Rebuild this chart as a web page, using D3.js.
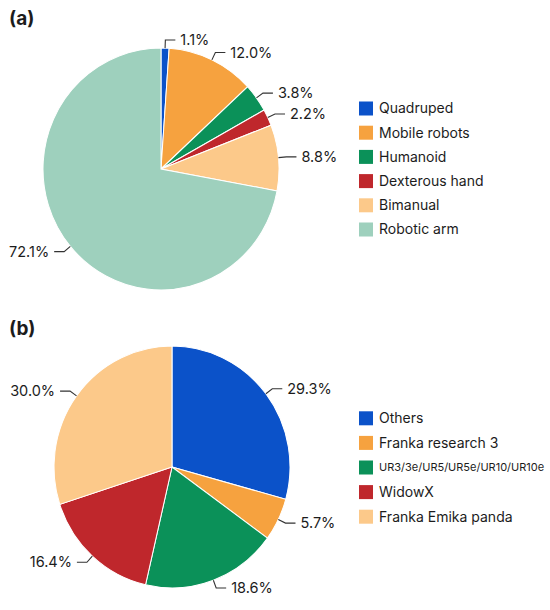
<!DOCTYPE html>
<html>
<head>
<meta charset="utf-8">
<script src="https://cdn.jsdelivr.net/npm/d3@7"></script>
<style>
  body { margin: 0; background: #fff; }
  text { font-family: Inter, "Noto Sans", sans-serif; fill: #1c1c1c; }
</style>
</head>
<body>
<script>
// panel (a): robot embodiment share
var catsA = ["Quadruped", "Mobile robots", "Humanoid", "Dexterous hand", "Bimanual", "Robotic arm"];
var valsA = [1.1, 12.0, 3.8, 2.2, 8.8, 72.1];
var colorsA = ["#0b52c9", "#f6a23f", "#0b9159", "#bf272c", "#fcc98a", "#9ed0bd"];

// panel (b): arm models
var catsB = ["Others", "Franka research 3", "UR3/3e/UR5/UR5e/UR10/UR10e", "WidowX", "Franka Emika panda"];
var valsB = [29.3, 5.7, 18.6, 16.4, 30.0];
var colorsB = ["#0b52c9", "#f6a23f", "#0b9159", "#bf272c", "#fcc98a"];

var width = 550, height = 610;

var svg = d3.select("body").append("svg")
  .attr("width", width)
  .attr("height", height);

function drawPanel(opts) {
  var r = 118, ky = 1.025;
  var data = opts.vals.map(function(v, i) { return { name: opts.cats[i], value: v, color: opts.colors[i] }; });

  var pie = d3.pie().value(function(d) { return d.value; }).sort(null);
  var arc = d3.arc().innerRadius(0).outerRadius(r);
  var arcs = pie(data);

  svg.append("text")
    .attr("x", 9).attr("y", opts.titleY)
    .attr("font-size", "19px").attr("font-weight", "bold")
    .text(opts.title);

  var g = svg.append("g")
    .attr("transform", "translate(" + opts.cx + "," + opts.cy + ")");

  g.append("g")
    .attr("transform", "scale(1," + ky + ")")
    .selectAll("path").data(arcs)
    .enter().append("path")
    .attr("d", arc)
    .attr("fill", function(d) { return d.data.color; })
    .attr("stroke", "#fff")
    .attr("stroke-width", 1);

  // leader lines + labels
  arcs.forEach(function(d) {
    var a = (d.startAngle + d.endAngle) / 2;
    var s = Math.sin(a) >= 0 ? 1 : -1;
    var x0 = r * Math.sin(a), y0 = -r * Math.cos(a) * ky;
    var x1 = (r + 8) * Math.sin(a), y1 = -(r + 8) * Math.cos(a) * ky;
    var x2 = x1 + s * 10;
    g.append("path")
      .attr("d", "M" + x0 + "," + y0 + "L" + x1 + "," + y1 + "L" + x2 + "," + y1)
      .attr("fill", "none")
      .attr("stroke", "#333")
      .attr("stroke-width", 1.1);
    g.append("text")
      .attr("x", x2 + s * 5)
      .attr("y", y1)
      .attr("dy", "0.35em")
      .attr("text-anchor", s > 0 ? "start" : "end")
      .attr("font-size", "14.5px")
      .text(d.data.value.toFixed(1) + "%");
  });

  // legend
  var leg = svg.append("g")
    .attr("transform", "translate(359," + opts.legY + ")");
  var item = leg.selectAll("g").data(data)
    .enter().append("g")
    .attr("transform", function(d, i) { return "translate(0," + (i * opts.legStep) + ")"; });
  item.append("rect")
    .attr("x", 0).attr("y", -7)
    .attr("width", 14).attr("height", 14)
    .attr("fill", function(d) { return d.color; });
  item.append("text")
    .attr("x", 20).attr("y", 0).attr("dy", "0.35em")
    .attr("font-size", function(d) { return d.name.length > 20 ? "11px" : "14px"; })
    .text(function(d) { return d.name; });
}

drawPanel({ title: "(a)", titleY: 25, cats: catsA, vals: valsA, colors: colorsA,
  cx: 161, cy: 169, legY: 108.5, legStep: 24.2 });
drawPanel({ title: "(b)", titleY: 335, cats: catsB, vals: valsB, colors: colorsB,
  cx: 172, cy: 467, legY: 418.3, legStep: 24.6 });
</script>
</body>
</html>
